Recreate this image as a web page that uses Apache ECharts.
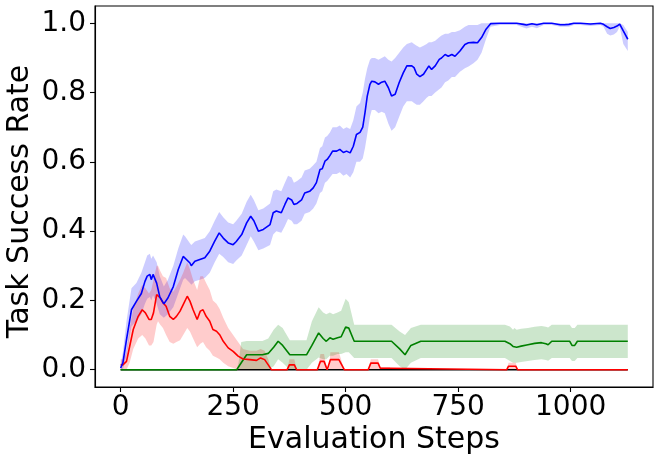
<!DOCTYPE html>
<html>
<head>
<meta charset="utf-8">
<script src="https://cdn.jsdelivr.net/npm/echarts@6/dist/echarts.min.js"></script>
<style>html,body{margin:0;padding:0;background:#fff}#c{width:660px;height:463px}</style>
</head>
<body>
<div id="c"></div>
<script>
const xTicks = [0, 250, 500, 750, 1000];
const yTicks = [0, 0.2, 0.4, 0.6, 0.8, 1.0];
const xLabel = 'Evaluation Steps';
const yLabel = 'Task Success Rate';

const blueSteps = [0,5,13,24,35,46,54,59,65,68,72,80,87,96,105,117,128,139,143,154,157,165,176,187,198,209,219,228,239,250,257,269,280,289,296,306,317,332,339,346,357,365,372,380,385,392,402,409,420,428,435,443,448,454,459,465,471,480,487,495,502,510,517,524,532,538,543,548,554,558,565,573,580,587,595,602,610,619,628,636,647,652,658,665,673,680,685,691,699,708,713,721,728,736,743,754,765,773,784,793,802,812,822,843,865,880,895,902,914,925,940,958,977,986,996,1007,1022,1044,1066,1073,1081,1088,1096,1103,1109,1117,1127];
const blueMean = [0.005,0.02,0.087,0.173,0.197,0.22,0.255,0.27,0.275,0.26,0.275,0.25,0.21,0.19,0.207,0.24,0.289,0.327,0.325,0.308,0.30,0.313,0.318,0.323,0.342,0.371,0.395,0.38,0.366,0.361,0.37,0.39,0.424,0.443,0.43,0.40,0.405,0.419,0.453,0.458,0.453,0.477,0.496,0.49,0.477,0.48,0.49,0.51,0.515,0.525,0.54,0.578,0.58,0.602,0.607,0.618,0.631,0.631,0.636,0.627,0.631,0.626,0.645,0.679,0.685,0.70,0.742,0.79,0.824,0.833,0.831,0.824,0.83,0.833,0.814,0.79,0.795,0.829,0.857,0.877,0.877,0.872,0.853,0.846,0.853,0.867,0.877,0.867,0.877,0.896,0.90,0.91,0.905,0.91,0.905,0.92,0.939,0.944,0.945,0.944,0.959,0.983,0.999,1.0,1.0,1.0,0.997,0.995,0.999,0.996,1.0,1.0,0.996,0.996,0.997,1.0,1.0,0.998,1.0,0.997,0.99,0.985,0.988,0.992,0.998,0.978,0.954];
const blueLow = [0.0,0.0,0.04,0.125,0.14,0.16,0.19,0.205,0.21,0.2,0.215,0.19,0.16,0.15,0.16,0.18,0.22,0.26,0.265,0.25,0.245,0.255,0.26,0.265,0.28,0.31,0.335,0.325,0.31,0.305,0.315,0.33,0.36,0.385,0.37,0.345,0.35,0.36,0.39,0.40,0.395,0.415,0.435,0.43,0.42,0.42,0.43,0.45,0.455,0.465,0.48,0.51,0.515,0.54,0.545,0.555,0.565,0.565,0.57,0.56,0.565,0.555,0.57,0.60,0.60,0.61,0.64,0.68,0.73,0.75,0.75,0.74,0.745,0.74,0.71,0.69,0.70,0.73,0.76,0.775,0.775,0.77,0.765,0.765,0.775,0.785,0.79,0.79,0.80,0.81,0.815,0.83,0.835,0.845,0.845,0.86,0.87,0.875,0.885,0.895,0.915,0.955,0.99,0.995,0.995,0.995,0.988,0.985,0.99,0.986,0.995,0.995,0.99,0.99,0.99,0.995,0.995,0.992,0.995,0.99,0.97,0.965,0.968,0.975,0.99,0.94,0.92];
const blueHigh = [0.015,0.05,0.14,0.235,0.25,0.28,0.31,0.33,0.335,0.32,0.33,0.31,0.27,0.24,0.26,0.30,0.35,0.39,0.385,0.365,0.36,0.37,0.375,0.38,0.40,0.43,0.455,0.44,0.425,0.42,0.43,0.45,0.485,0.505,0.49,0.46,0.465,0.48,0.515,0.52,0.515,0.54,0.56,0.555,0.54,0.545,0.555,0.575,0.58,0.59,0.60,0.64,0.645,0.67,0.675,0.685,0.70,0.70,0.705,0.695,0.70,0.695,0.72,0.76,0.77,0.80,0.84,0.87,0.895,0.90,0.90,0.895,0.90,0.905,0.895,0.89,0.90,0.915,0.93,0.94,0.945,0.94,0.935,0.93,0.935,0.94,0.945,0.945,0.95,0.96,0.965,0.97,0.97,0.975,0.975,0.98,0.99,0.995,0.995,0.995,1.0,1.0,1.0,1.0,1.0,1.0,1.0,1.0,1.0,1.0,1.0,1.0,1.0,1.0,1.0,1.0,1.0,1.0,1.0,1.0,1.0,1.0,1.0,1.0,1.0,0.995,0.975];

const redSteps = [0,5,13,20,28,39,48,55,63,68,73,80,83,88,94,101,109,117,124,132,139,148,154,161,170,177,183,190,198,205,213,220,228,239,250,261,272,287,302,311,320,328,335,370,375,386,391,437,444,452,459,463,466,485,497,550,556,572,577,598,601,858,862,878,882,1127];
const redMean = [0.014,0.014,0.024,0.067,0.116,0.154,0.173,0.164,0.145,0.145,0.164,0.217,0.222,0.207,0.193,0.183,0.154,0.145,0.154,0.169,0.188,0.212,0.198,0.173,0.145,0.169,0.173,0.154,0.14,0.116,0.111,0.101,0.082,0.063,0.053,0.039,0.031,0.029,0.027,0.034,0.029,0.014,0,0,0.014,0.014,0,0,0.024,0.024,0,0,0.029,0.029,0,0,0.019,0.019,0.004,0.004,0,0,0.01,0.01,0,0];
const redLow = [0,0,0,0.02,0.06,0.09,0.10,0.09,0.07,0.07,0.08,0.13,0.14,0.13,0.12,0.10,0.08,0.075,0.08,0.085,0.10,0.12,0.11,0.09,0.065,0.075,0.08,0.065,0.055,0.04,0.035,0.03,0.02,0.01,0.005,0,0,0,0,0,0,0,0,0,0,0,0,0,0,0,0,0,0,0,0,0,0,0,0,0,0,0,0,0,0,0];
const redHigh = [0.03,0.03,0.05,0.12,0.175,0.22,0.245,0.235,0.22,0.23,0.26,0.30,0.30,0.285,0.27,0.265,0.235,0.225,0.24,0.26,0.28,0.31,0.29,0.26,0.23,0.27,0.27,0.25,0.23,0.20,0.19,0.175,0.15,0.12,0.10,0.08,0.06,0.055,0.055,0.06,0.055,0.03,0,0,0.03,0.03,0,0,0.045,0.045,0,0,0.05,0.05,0,0,0.03,0.03,0.008,0.008,0,0,0.02,0.02,0,0];

const greenSteps = [0,258,262,268,280,315,328,340,350,360,376,413,425,440,450,457,465,472,482,490,500,507,519,602,620,632,645,667,854,865,872,875,880,890,905,920,935,945,950,958,998,1003,1009,1015,1127];
const greenMean = [0,0,0.005,0.02,0.043,0.043,0.047,0.065,0.082,0.07,0.043,0.043,0.07,0.106,0.09,0.082,0.092,0.088,0.092,0.095,0.123,0.12,0.082,0.082,0.06,0.043,0.07,0.082,0.082,0.075,0.067,0.072,0.065,0.068,0.072,0.076,0.078,0.075,0.072,0.082,0.082,0.07,0.07,0.082,0.082];
const greenLow = [0,0,0,0,0,0,0,0.01,0.03,0.02,0,0,0.02,0.035,0.03,0.03,0.04,0.04,0.045,0.045,0.05,0.05,0.034,0.034,0.01,0,0.02,0.034,0.034,0.025,0.02,0.02,0.02,0.022,0.025,0.028,0.03,0.028,0.026,0.034,0.034,0.025,0.025,0.034,0.034];
const greenHigh = [0,0,0.02,0.08,0.083,0.083,0.09,0.115,0.13,0.12,0.085,0.085,0.14,0.18,0.165,0.16,0.165,0.16,0.165,0.17,0.205,0.195,0.13,0.13,0.11,0.1,0.12,0.13,0.13,0.125,0.115,0.12,0.115,0.118,0.12,0.124,0.126,0.124,0.122,0.13,0.13,0.12,0.12,0.13,0.13];

const blackSteps = [0, 1127];
const blackMean = [0, 0];

const FONT = 'DejaVu Sans';

function pairs(xs, ys) { return xs.map((x, i) => [x, ys[i]]); }

function band(xs, lo, hi, fill) {
  return {
    type: 'custom',
    silent: true,
    z: 1,
    data: [[xs[0], lo[0]]],
    renderItem: function (params, api) {
      const pts = [];
      for (let i = 0; i < xs.length; i++) pts.push(api.coord([xs[i], hi[i]]));
      for (let i = xs.length - 1; i >= 0; i--) pts.push(api.coord([xs[i], lo[i]]));
      return { type: 'polygon', shape: { points: pts }, style: { fill: fill } };
    }
  };
}

function line(xs, ys, color) {
  return {
    type: 'line', z: 3, data: pairs(xs, ys), showSymbol: false, symbol: 'none',
    lineStyle: { color: color, width: 1.6 }, itemStyle: { color: color }
  };
}

const chart = echarts.init(document.getElementById('c'), null, { renderer: 'canvas' });
chart.setOption({
  animation: false,
  backgroundColor: '#fff',
  grid: { left: 95, right: 7, top: 6, bottom: 76, containLabel: false, outerBoundsMode: 'none',
          show: true, borderColor: '#000', borderWidth: 1.1, backgroundColor: 'transparent' },
  xAxis: {
    type: 'value', min: -57, max: 1183,
    name: xLabel, nameLocation: 'middle', nameGap: 38, nameMoveOverlap: false,
    nameTextStyle: { fontFamily: FONT, fontSize: 30, color: '#000' },
    axisLine: { show: true, onZero: false, lineStyle: { color: '#000', width: 1.1 } },
    axisTick: { show: true, inside: false, length: 5, customValues: xTicks, lineStyle: { color: '#000', width: 1.1 } },
    axisLabel: { customValues: xTicks, margin: 7, fontFamily: FONT, fontSize: 28, color: '#000', formatter: v => String(v) },
    splitLine: { show: false }
  },
  yAxis: {
    type: 'value', min: -0.05, max: 1.05,
    name: yLabel, nameLocation: 'middle', nameGap: 60, nameRotate: 90, nameMoveOverlap: false,
    nameTextStyle: { fontFamily: FONT, fontSize: 30, color: '#000', padding: [0, 10, 0, 0] },
    axisLine: { show: true, onZero: false, lineStyle: { color: '#000', width: 1.1 } },
    axisTick: { show: true, inside: false, length: 5, customValues: yTicks, lineStyle: { color: '#000', width: 1.1 } },
    axisLabel: { customValues: yTicks, margin: 9, fontFamily: FONT, fontSize: 28, color: '#000', formatter: v => v.toFixed(1) },
    splitLine: { show: false }
  },
  series: [
    band(blueSteps, blueLow, blueHigh, 'rgba(0,0,255,0.2)'),
    band(redSteps, redLow, redHigh, 'rgba(255,0,0,0.2)'),
    band(greenSteps, greenLow, greenHigh, 'rgba(0,128,0,0.2)'),
    line(blackSteps, blackMean, '#000000'),
    line(greenSteps, greenMean, '#008000'),
    line(redSteps, redMean, '#ff0000'),
    line(blueSteps, blueMean, '#0000ff')
  ]
});
</script>
</body>
</html>
